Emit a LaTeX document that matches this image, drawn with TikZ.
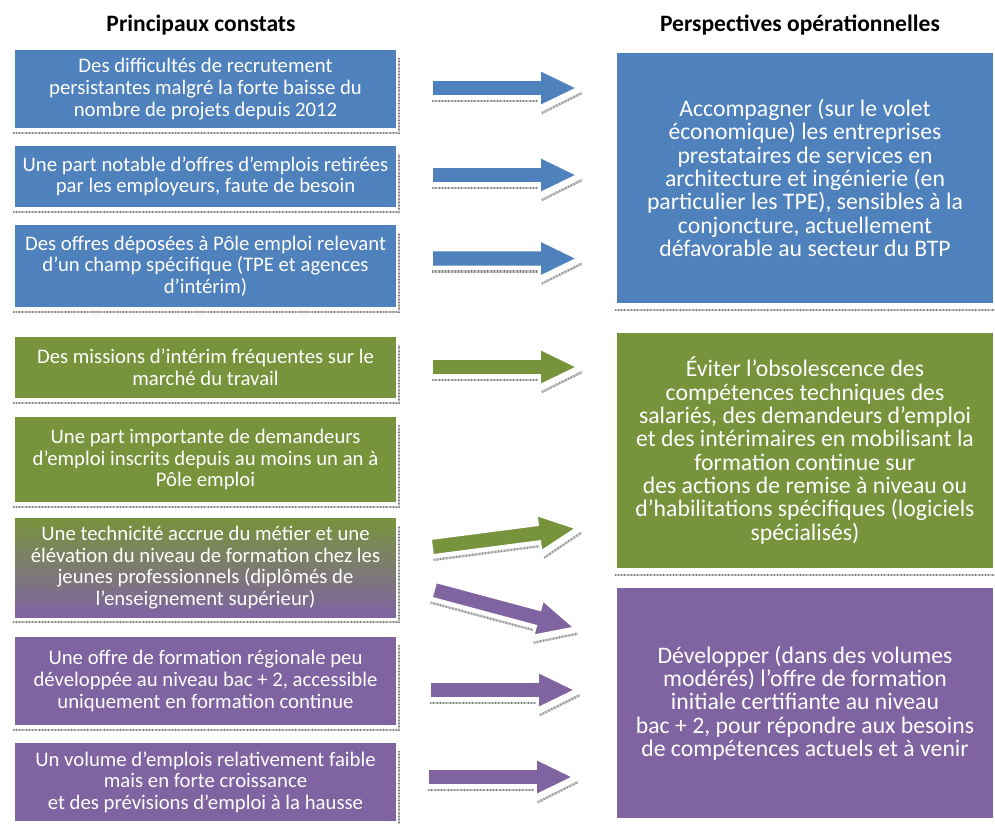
\documentclass[tikz,border=0pt]{standalone}
\usepackage{fontspec}
\setmainfont{Carlito}
\usetikzlibrary{calc}

\definecolor{bleuC}{RGB}{79,129,189}
\definecolor{vertC}{RGB}{119,147,60}
\definecolor{violetC}{RGB}{128,100,162}

\tikzset{
  constat/.style={minimum width=7.62cm, align=center, text=white, inner sep=0pt,
    font=\fontsize{11.8}{12.3}\selectfont},
  perspective/.style={minimum width=7.52cm, align=center, text=white, inner sep=0pt,
    font=\fontsize{13.5}{13.3}\selectfont},
  titre/.style={font=\bfseries\fontsize{13.4}{16}\selectfont},
  ombre/.style={draw=gray!45, line width=1.3pt,
    postaction={draw=black!50, line width=1.3pt, dash pattern=on 0.35pt off 1.5pt}},
  fleche/.pic={
    % ombre sous la fleche
    \draw[ombre] (0,13) -- (106,13);
    \draw[ombre] (110,25) -- (150,5);
    \fill[#1, draw=white, line width=1pt] (0,-8) -- (108,-8) -- (108,-18) -- (145,0)
      -- (108,18) -- (108,8) -- (0,8) -- cycle;
  }
}

\begin{document}
\begin{tikzpicture}[x=0.02cm, y=-0.02cm]
  \path[fill=white, use as bounding box] (0,0) rectangle (995,823);

  % titres
  \node[titre] (tg) at (201,25) {Principaux constats};
  \node[titre] (td) at (800,25) {Perspectives opérationnelles};

  % constats
  \node[constat, fill=bleuC, minimum height=1.56cm] (b1) at (205.5,89)
    {Des difficultés de recrutement\\persistantes malgré la forte baisse du\\nombre de projets depuis 2012};
  \node[constat, fill=bleuC, minimum height=1.22cm] (b2) at (205.5,176.5)
    {Une part notable d’offres d’emplois retirées\\par les employeurs, faute de besoin};
  \node[constat, fill=bleuC, minimum height=1.64cm] (b3) at (205.5,266)
    {Des offres déposées à Pôle emploi relevant\\d’un champ spécifique (TPE et agences\\d’intérim)};
  \node[constat, fill=vertC, minimum height=1.22cm] (b4) at (205.5,367.5)
    {Des missions d’intérim fréquentes sur le\\marché du travail};
  \node[constat, fill=vertC, minimum height=1.70cm] (b5) at (205.5,459.5)
    {Une part importante de demandeurs\\d’emploi inscrits depuis au moins un an à\\Pôle emploi};
  \node[constat, top color=vertC, bottom color=violetC, minimum height=1.98cm] (b6) at (205.5,567.5)
    {Une technicité accrue du métier et une\\élévation du niveau de formation chez les\\jeunes professionnels (diplômés de\\l’enseignement supérieur)};
  \node[constat, fill=violetC, minimum height=1.76cm] (b7) at (205.5,681)
    {Une offre de formation régionale peu\\développée au niveau bac + 2, accessible\\uniquement en formation continue};
  \node[constat, fill=violetC, minimum height=1.56cm] (b8) at (205.5,782)
    {Un volume d’emplois relativement faible\\mais en forte croissance\\et des prévisions d’emploi à la hausse};

  % perspectives
  \node[perspective, fill=bleuC, minimum height=5.0cm] (r1) at (805,178)
    {Accompagner (sur le volet\\économique) les entreprises\\prestataires de services en\\architecture et ingénierie (en\\particulier les TPE), sensibles à la\\conjoncture, actuellement\\défavorable au secteur du BTP};
  \node[perspective, fill=vertC, minimum height=4.7cm] (r2) at (805,450.5)
    {Éviter l’obsolescence des\\compétences techniques des\\salariés, des demandeurs d’emploi\\et des intérimaires en mobilisant la\\formation continue sur\\des actions de remise à niveau ou\\d’habilitations spécifiques (logiciels\\spécialisés)};
  \node[perspective, fill=violetC, minimum height=4.6cm] (r3) at (805,703)
    {Développer (dans des volumes\\modérés) l’offre de formation\\initiale certifiante au niveau\\bac + 2, pour répondre aux besoins\\de compétences actuels et à venir};

  % ombres des cadres
  \foreach \b in {b1,b2,b3,b4,b5,b6,b7} {
    \draw[ombre] ($(\b.south west)+(-2,5)$) -- ($(\b.south east)+(3,5)$) -- ($(\b.north east)+(3,8)$);
  }
  \draw[ombre] ($(b8.south east)+(3,5)$) -- ($(b8.north east)+(3,8)$);
  \foreach \r in {r1,r2,r3} {
    \draw[ombre] ($(\r.south west)+(-2,7)$) -- ($(\r.south east)+(3,7)$);
  }

  % fleches
  \coordinate (f1) at (432,88);
  \coordinate (f2) at (432,175);
  \coordinate (f3) at (432,258.5);
  \coordinate (f4) at (432,367);
  \coordinate (f5) at (432,547);
  \coordinate (f6) at (434,590);
  \coordinate (f7) at (430,690);
  \coordinate (f8) at (428,777);
  \pic at (f1) {fleche=bleuC};
  \pic at (f2) {fleche=bleuC};
  \pic at (f3) {fleche=bleuC};
  \pic at (f4) {fleche=vertC};
  \pic[rotate=7.4] at (f5) {fleche=vertC};
  \pic[rotate=-15] at (f6) {fleche=violetC};
  \pic at (f7) {fleche=violetC};
  \pic at (f8) {fleche=violetC};
\end{tikzpicture}
\end{document}
